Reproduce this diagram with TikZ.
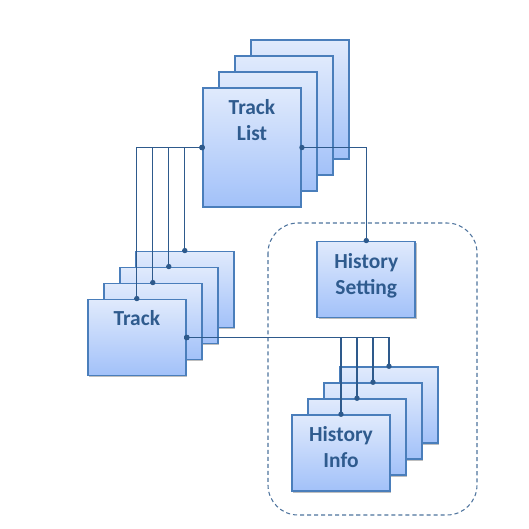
\documentclass[tikz,border=0pt]{standalone}
\usepackage{fontspec}
\setmainfont{Carlito}
\usetikzlibrary{arrows.meta,shadows}
\definecolor{boxtop}{HTML}{E0EAFC}
\definecolor{boxbot}{HTML}{A2C1F9}
\definecolor{boxline}{HTML}{4A7EBB}
\definecolor{txtblue}{HTML}{2F5B8E}
\definecolor{wireblue}{HTML}{2E5A8C}
\tikzset{
  box/.style={draw=boxline, line width=1.1pt, top color=boxtop, bottom color=boxbot,
    minimum width=1.96cm, minimum height=1.52cm, inner sep=0pt,
    drop shadow={shadow xshift=0.8pt, shadow yshift=-0.8pt, opacity=0.25, fill=black}},
  tallbox/.style={box, minimum height=2.38cm},
  lbl/.style={anchor=north, inner sep=0pt, align=center, text=txtblue,
    font=\fontsize{12.2}{14.7}\selectfont\bfseries},
  wire/.style={draw=wireblue, line width=0.7pt, {Circle[length=3pt]}-{Circle[length=3pt]},
    shorten <=-1.5pt, shorten >=-1.5pt},
  grp/.style={draw=wireblue!85, line width=0.6pt, dash pattern=on 2.3pt off 1.7pt, rounded corners=0.6cm}
}
\begin{document}
\begin{tikzpicture}[x=0.02cm,y=-0.02cm]
\useasboundingbox (0,0) rectangle (529,529);
% history group
\draw[grp] (268,223) rectangle (477,515);
% stacks, back to front
\foreach \i in {3,2,1,0} {
  \node[tallbox] (tl\i) at (252+16*\i,147.5-16*\i) {};
  \node[box] (tr\i) at (136.8+16*\i,337.5-16*\i) {};
  \node[box] (hi\i) at (341+16*\i,453.2-16*\i) {};
}
\node[box] (hs) at (366.3,279.5) {};
% labels
\node[lbl] (tlt) at ([yshift=-0.24cm]tl0.north) {Track\\List};
\node[lbl] (trt) at ([yshift=-0.24cm]tr0.north) {Track};
\node[lbl] (hst) at ([yshift=-0.25cm]hs.north) {History\\Setting};
\node[lbl] (hit) at ([yshift=-0.24cm]hi0.north) {History\\Info};
% connectors
\foreach \i in {0,...,3} {
  \draw[wire] (tl0.west) -| (tr\i.north);
  \draw[wire] (tr0.east) -| (hi\i.north);
}
\draw[wire] (tl0.east) -| (hs.north);
\end{tikzpicture}
\end{document}
